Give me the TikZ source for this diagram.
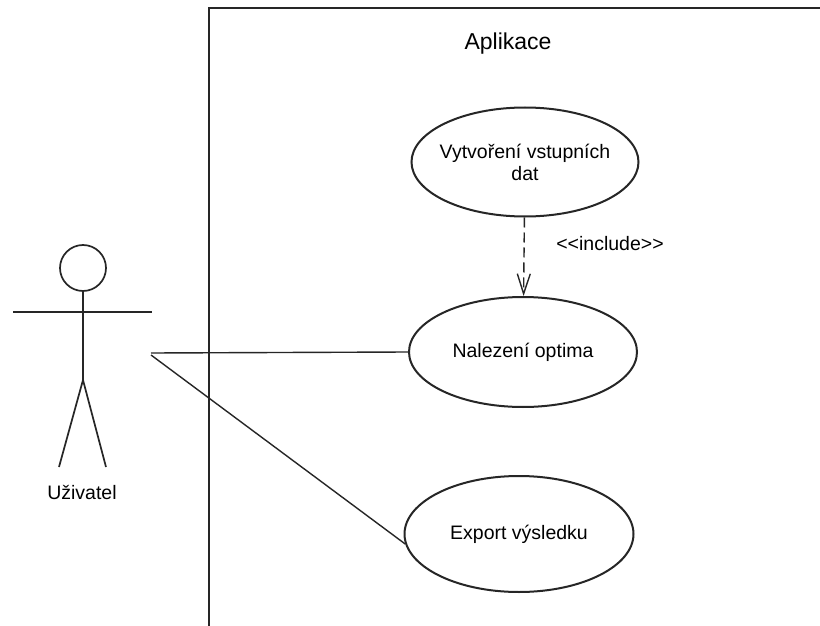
\documentclass[tikz,border=0pt]{standalone}
\usepackage{fontspec}
\setmainfont{Liberation Sans}
\usetikzlibrary{shapes.geometric,arrows.meta}

\tikzset{
  ink/.style={draw=black!85},
  usecase/.style={ellipse, ink, line width=2pt, inner sep=0pt,
    align=center, font=\fontsize{19.5}{22}\selectfont},
  assoc/.style={ink, line width=1.4pt},
  stick/.style={ink, line width=1.7pt},
  lbl/.style={font=\fontsize{19.5}{22}\selectfont, inner sep=0pt},
}

\begin{document}
\begin{tikzpicture}[x=1pt,y=-1pt]
  \useasboundingbox (0,0) rectangle (820,626);
  \clip (0,0) rectangle (820,626);
  \fill[white] (0,0) rectangle (820,626);

  % system boundary
  \draw[ink, line width=2.5pt] (209,640) -- (209,8) -- (840,8);
  \node[font=\fontsize{23}{27}\selectfont, inner sep=0pt] (sys) at (508,44) {Aplikace};

  % use cases (negative x-separation keeps the wide two-line label from
  % inflating the ellipse)
  \node[usecase, inner xsep=-10pt, minimum width=227pt, minimum height=109pt] (vyt) at (525,162)
    {Vytvoření vstupních\\dat};
  \node[usecase, minimum width=228pt, minimum height=110pt] (opt) at (523,352)
    {Nalezení optima};
  \node[usecase, minimum width=229pt, minimum height=116pt] (exp) at (519,534)
    {Export výsledku};

  % include relation
  \draw[ink, line width=1.4pt, dash pattern=on 10pt off 5pt,
        -{Straight Barb[length=20pt,width=13pt,line width=1.4pt]}]
    (vyt) -- (opt);
  \node[lbl] (inc) at (610,244) {{<}{<}include{>}{>}};

  % actor
  \node[circle, stick, minimum size=46pt, inner sep=0pt] (head) at (83,268) {};
  \coordinate (armL) at (13,312);
  \coordinate (armR) at (152,312);
  \coordinate (hip) at (83,380);
  \coordinate (footL) at (59,467);
  \coordinate (footR) at (106,467);
  \draw[stick] (armL) -- (armR);
  \draw[stick] (head.south) -- (hip);
  \draw[stick] (footL) -- (hip) -- (footR);
  \node[lbl] (user) at (82,492) {Uživatel};

  % associations
  \coordinate (hand1) at (151,353);
  \coordinate (hand2) at (151,355);
  \draw[assoc] (hand1) -- (opt.west);
  \draw[assoc] (hand2) -- (exp.185);
\end{tikzpicture}
\end{document}
